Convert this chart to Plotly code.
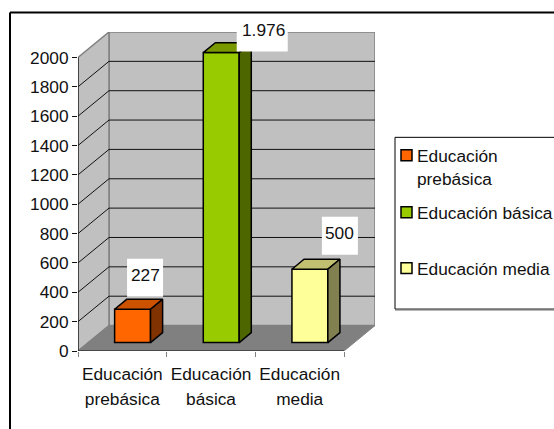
import plotly.graph_objects as go

# Data
categories = ["Educación prebásica", "Educación básica", "Educación media"]
tick_lines = [["Educación", "prebásica"], ["Educación", "básica"], ["Educación", "media"]]
values = [227, 1976, 500]
y_ticks = list(range(0, 2001, 200))
legend_names = ["Educación<br>prebásica", "Educación básica", "Educación media"]

# Styles
front_colors = ["#FF6600", "#99CC00", "#FFFF99"]
top_colors = ["#CC5200", "#7A9900", "#C0C070"]
side_colors = ["#803300", "#4D6600", "#808050"]
box_shift = [(12.5, 31.5), (41, 20), (30, 33.5)]
text_shift = [(12.5, 34), (42, 23), (30, 36)]
legend_y_px = [155, 212, 268]

W, H = 554, 429
L, R, T, B = 78, 375, 31.5, 351
FRONT_W = 266.0
PX_X = FRONT_W / 3
PX_Y = 294.0 / 2000
DX = 31 / PX_X
DY = 25.5 / PX_Y
Z0, Z1 = 0.33, 0.72
BAR_W = 0.405
FS = 17.3


def proj(x, y, z=0.0):
    return x + z * DX, y + z * DY


def path(points):
    return "M" + " L".join(f"{px},{py}" for px, py in points) + " Z"


fx = lambda px: (px - L) / (R - L)
fy = lambda py: (B - py) / (B - T)

shapes = []
wall_line = dict(color="#808080", width=1.5)
back = [proj(0, 0, 1), proj(3, 0, 1), proj(3, 2000, 1), proj(0, 2000, 1)]
side = [proj(0, 0), proj(0, 0, 1), proj(0, 2000, 1), proj(0, 2000)]
floor = [proj(0, 0), proj(3, 0), proj(3, 0, 1), proj(0, 0, 1)]
shapes.append(dict(type="path", path=path(back), fillcolor="#C0C0C0", line=wall_line, layer="below"))
shapes.append(dict(type="path", path=path(side), fillcolor="#C0C0C0", line=wall_line, layer="below"))
shapes.append(dict(type="path", path=path(floor), fillcolor="#808080", line=dict(color="#808080", width=1), layer="below"))
for v in y_ticks[1:-1]:
    (x0, y0), (x1, y1), (x2, y2) = proj(0, v), proj(0, v, 1), proj(3, v, 1)
    shapes.append(dict(type="line", x0=x0, y0=y0, x1=x1, y1=y1, line=dict(color="#111111", width=1), layer="below"))
    shapes.append(dict(type="line", x0=x1, y0=y1, x1=x2, y1=y2, line=dict(color="#111111", width=1), layer="below"))
shapes.append(dict(type="line", x0=0, y0=0, x1=3, y1=0, line=dict(color="#111111", width=1.2), layer="below"))
shapes.append(dict(type="line", x0=0, y0=0, x1=0, y1=2000, line=dict(color="#111111", width=1.2), layer="below"))

fig = go.Figure()
annotations = []
for i, v in enumerate(values):
    xc = i + 0.5
    a, b = xc - BAR_W / 2, xc + BAR_W / 2
    cx, base = proj(xc, 0, Z0)
    fig.add_trace(go.Bar(
        x=[cx], y=[v], base=[base], width=[BAR_W], name=categories[i], showlegend=False,
        marker=dict(color=front_colors[i], line=dict(color="#000000", width=1.5)),
        hoverinfo="skip",
    ))
    top = [proj(a, v, Z0), proj(b, v, Z0), proj(b, v, Z1), proj(a, v, Z1), proj(a, v, Z0)]
    sd = [proj(b, 0, Z0), proj(b, v, Z0), proj(b, v, Z1), proj(b, 0, Z1), proj(b, 0, Z0)]
    for pts, color in ((top, top_colors[i]), (sd, side_colors[i])):
        fig.add_trace(go.Scatter(
            x=[p[0] for p in pts], y=[p[1] for p in pts], mode="lines", fill="toself",
            fillcolor=color, line=dict(color="#000000", width=1.5),
            showlegend=False, hoverinfo="skip",
        ))
    w = 51 if v >= 1000 else 36
    dx, dy = box_shift[i]
    shapes.append(dict(
        type="rect", xref="x", yref="y", xsizemode="pixel", ysizemode="pixel",
        xanchor=cx, yanchor=base + v, x0=dx - w / 2, x1=dx + w / 2, y0=dy - 19, y1=dy + 19,
        fillcolor="#FFFFFF", line=dict(width=0), layer="above",
    ))
    annotations.append(dict(
        x=cx, y=base + v, xref="x", yref="y", text=f"{v:,}".replace(",", "."),
        showarrow=False, xshift=text_shift[i][0], yshift=text_shift[i][1],
        font=dict(size=FS, color="#111111", family="Liberation Sans"),
    ))

# Outer frame
frame = dict(color="#000000", width=2)
shapes.append(dict(type="line", xref="paper", yref="paper", x0=fx(10), x1=fx(W), y0=fy(12), y1=fy(12), line=frame))
shapes.append(dict(type="line", xref="paper", yref="paper", x0=fx(10), x1=fx(10), y0=fy(12), y1=fy(H), line=frame))

# Legend panel
shapes.append(dict(type="rect", xref="paper", yref="paper", x0=fx(395), x1=fx(W + 6), y0=fy(137), y1=fy(309),
                   fillcolor="#FFFFFF", line=dict(color="#000000", width=1)))
shapes.append(dict(type="line", xref="paper", yref="paper", x0=fx(395), x1=fx(W), y0=fy(310), y1=fy(310),
                   line=dict(color="#808080", width=1)))
for name, color, py in zip(legend_names, front_colors, legend_y_px):
    shapes.append(dict(type="rect", xref="paper", yref="paper", x0=fx(401), x1=fx(412), y0=fy(py - 5.5), y1=fy(py + 5.5),
                       fillcolor=color, line=dict(color="#000000", width=1.5)))
    annotations.append(dict(
        xref="paper", yref="paper", x=fx(415.5), y=fy(py - 10), xanchor="left", yanchor="top",
        text=f"<span style='font-size:{FS}px'>{name}</span>", align="left", showarrow=False, borderpad=0,
        font=dict(size=17.7, color="#111111", family="Liberation Sans"),
    ))

tick_text = [f"<span style='font-size:{FS}px'>{a}<br>{b}</span>" for a, b in tick_lines]

fig.update_layout(
    width=W, height=H, margin=dict(l=L, r=W - R, t=T, b=H - B),
    paper_bgcolor="#FFFFFF", plot_bgcolor="rgba(0,0,0,0)",
    font=dict(family="Liberation Sans", size=FS, color="#111111"),
    barmode="overlay", shapes=shapes, annotations=annotations, showlegend=False,
    xaxis=dict(
        range=[0, 3 + DX], showgrid=False, zeroline=False, showline=False,
        tickvals=[0.5, 1.5, 2.5], ticktext=tick_text, ticks="outside", ticklen=5,
        tickcolor="rgba(0,0,0,0)", tickangle=0, tickfont=dict(size=19.2, color="#111111"),
        minor=dict(tickvals=[0, 1, 2, 3], ticks="outside", ticklen=5, tickcolor="#808080", tickwidth=1.2),
    ),
    yaxis=dict(
        range=[0, 2000 + DY], showgrid=False, zeroline=False, showline=False,
        tickvals=y_ticks, ticktext=[str(t) for t in y_ticks], ticks="outside", ticklen=5,
        tickcolor="#111111", tickwidth=1.2, tickfont=dict(size=FS, color="#111111"),
    ),
)
fig.write_html("out.html", post_script="document.body.style.margin='0';", config={"displayModeBar": False})
